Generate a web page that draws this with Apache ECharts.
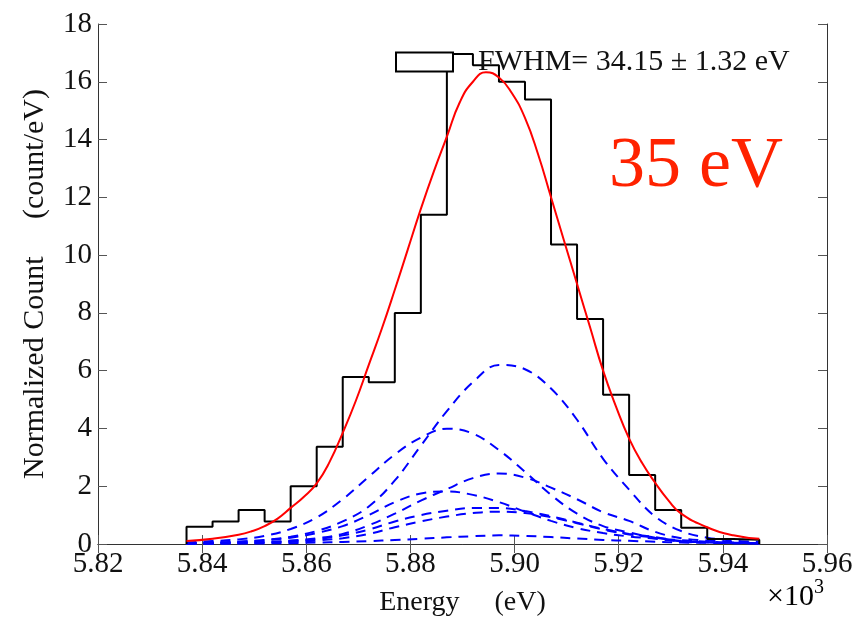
<!DOCTYPE html>
<html>
<head>
<meta charset="utf-8">
<script src="https://cdn.jsdelivr.net/npm/echarts@6/dist/echarts.min.js"></script>
<style>
  html, body { margin: 0; padding: 0; background: #fff; }
  #spectrum { width: 858px; height: 622px; }
</style>
</head>
<body>
<div id="spectrum"></div>
<script>
// energies in keV (axis shows x10^3 eV)
var binEdges = [5.837, 5.842, 5.847, 5.852, 5.857, 5.862, 5.867, 5.872, 5.877, 5.882, 5.887, 5.892,
    5.897, 5.902, 5.907, 5.912, 5.917, 5.922, 5.927, 5.932, 5.937, 5.942, 5.947];
var binCounts = [0.6, 0.78, 1.18, 0.78, 2.0, 3.37, 5.78, 5.6, 8.0, 11.4, 16.96, 16.57,
    16.0, 15.39, 10.37, 7.79, 5.17, 2.39, 1.18, 0.56, 0.17, 0.15];

// red total fit
var fitTotalE = [5.837, 5.842, 5.847, 5.8495, 5.852, 5.8545, 5.857, 5.8595, 5.862, 5.8645, 5.867,
    5.8695, 5.872, 5.8745, 5.877, 5.8795, 5.882, 5.8845, 5.887, 5.8895, 5.892, 5.8945, 5.897,
    5.8995, 5.902, 5.9045, 5.907, 5.9095, 5.912, 5.9145, 5.917, 5.9195, 5.922, 5.9245, 5.927,
    5.9295, 5.932, 5.937, 5.942, 5.947];
var fitTotalY = [0.1, 0.18, 0.32, 0.44, 0.62, 0.88, 1.25, 1.63, 2.1, 2.85, 3.85,
    4.95, 6.2, 7.45, 8.8, 10.2, 11.6, 12.9, 14.1, 15.3, 16.0, 16.33, 16.15,
    15.6, 14.75, 13.5, 12.0, 10.5, 9.0, 7.5, 6.0, 4.75, 3.65, 2.8, 2.12,
    1.52, 1.05, 0.58, 0.30, 0.18];

// blue dashed components, on the same energy grid as binEdges
var compE = binEdges;
var compA = [0.03, 0.05, 0.08, 0.14, 0.25, 0.45, 0.78, 1.3, 2.2, 3.4, 4.6, 5.6, 6.2, 6.05, 5.38, 4.3, 2.95, 1.88, 0.95, 0.45, 0.22, 0.12, 0.07];
var compB = [0.05, 0.1, 0.16, 0.28, 0.52, 0.92, 1.55, 2.33, 3.1, 3.68, 3.99, 3.82, 3.25, 2.5, 1.7, 1.05, 0.62, 0.4, 0.22, 0.13, 0.08, 0.05, 0.03];
var compC = [0.02, 0.03, 0.05, 0.07, 0.12, 0.2, 0.35, 0.65, 1.05, 1.5, 1.9, 2.28, 2.44, 2.3, 1.95, 1.55, 1.1, 0.8, 0.42, 0.2, 0.12, 0.07, 0.04];
var compD = [0.03, 0.05, 0.08, 0.13, 0.22, 0.38, 0.62, 1.0, 1.45, 1.75, 1.82, 1.7, 1.45, 1.12, 0.8, 0.55, 0.38, 0.26, 0.18, 0.08, 0.05, 0.03, 0.02];
var compE2 = [0.02, 0.03, 0.04, 0.06, 0.1, 0.17, 0.3, 0.5, 0.78, 1.0, 1.15, 1.25, 1.25, 1.14, 0.96, 0.74, 0.52, 0.35, 0.24, 0.1, 0.06, 0.04, 0.02];
var compF = [0.01, 0.02, 0.03, 0.04, 0.07, 0.12, 0.2, 0.35, 0.58, 0.78, 0.95, 1.07, 1.12, 1.07, 0.93, 0.72, 0.5, 0.33, 0.22, 0.09, 0.06, 0.04, 0.02];
var compG = [0.01, 0.01, 0.015, 0.02, 0.03, 0.05, 0.07, 0.1, 0.14, 0.18, 0.23, 0.27, 0.3, 0.28, 0.24, 0.19, 0.14, 0.11, 0.08, 0.05, 0.04, 0.03, 0.02];

var xTicks = [5.82, 5.84, 5.86, 5.88, 5.90, 5.92, 5.94, 5.96];
var yTicks = [0, 2, 4, 6, 8, 10, 12, 14, 16, 18];
var legendText = 'FWHM= 34.15 \u00b1 1.32 eV';

var serif = '"Liberation Serif", "DejaVu Serif", serif';

function pairs(xs, ys) {
    return ys.map(function (y, i) { return [xs[i], y]; });
}

// histogram outline as step line down to the baseline at both ends
var histData = [[binEdges[0], 0]];
binCounts.forEach(function (c, i) { histData.push([binEdges[i], c]); });
histData.push([binEdges[binEdges.length - 1], binCounts[binCounts.length - 1]]);
histData.push([binEdges[binEdges.length - 1], 0]);

var comps = [compA, compB, compC, compD, compE2, compF, compG];

var myChart = echarts.init(document.getElementById('spectrum'));

var axisLine = { show: true, lineStyle: { color: '#333', width: 1 } };
var axisTick = { show: true, inside: true, length: 9, lineStyle: { color: '#555', width: 1 } };

var series = [];
comps.forEach(function (c, i) {
    series.push({
        name: 'comp' + i,
        type: 'line',
        data: pairs(compE, c),
        smooth: 0.4,
        showSymbol: false,
        silent: true,
        lineStyle: { color: '#0000ff', width: 2, type: [10, 7] },
        z: 2
    });
});
series.push({
    name: legendText,
    type: 'line',
    step: 'end',
    data: histData,
    showSymbol: false,
    silent: true,
    lineStyle: { color: '#000', width: 2 },
    itemStyle: { color: '#fff', borderColor: '#000', borderWidth: 2 },
    z: 3
});
series.push({
    name: 'fit',
    type: 'line',
    data: pairs(fitTotalE, fitTotalY),
    smooth: 0.5,
    showSymbol: false,
    silent: true,
    lineStyle: { color: '#ff0000', width: 2 },
    z: 4
});

var option = {
    backgroundColor: '#fff',
    animation: false,
    grid: { left: 98, right: 31, top: 24, bottom: 75 },
    legend: {
        data: [{
            name: legendText,
            icon: 'rect',
            itemStyle: { color: '#fff', borderColor: '#000', borderWidth: 2 }
        }],
        left: 395,
        top: 47,
        padding: 0,
        itemWidth: 57,
        itemHeight: 19,
        selectedMode: false,
        textStyle: { fontFamily: serif, fontSize: 30, color: '#111', padding: [0, 0, 0, 20] }
    },
    xAxis: [{
        type: 'value',
        min: xTicks[0],
        max: xTicks[xTicks.length - 1],
        interval: 0.02,
        position: 'bottom',
        axisLine: axisLine,
        axisTick: axisTick,
        splitLine: { show: false },
        axisLabel: {
            fontFamily: serif, fontSize: 29, color: '#111', margin: 6,
            formatter: function (v) { return v.toFixed(2); }
        },
        name: 'Energy     (eV)',
        nameLocation: 'middle',
        nameGap: 45,
        nameTextStyle: { fontFamily: serif, fontSize: 28, color: '#111' }
    }, {
        type: 'value',
        min: xTicks[0],
        max: xTicks[xTicks.length - 1],
        interval: 0.02,
        position: 'top',
        axisLine: axisLine,
        axisTick: axisTick,
        axisLabel: { show: false },
        splitLine: { show: false }
    }],
    yAxis: [{
        type: 'value',
        min: yTicks[0],
        max: yTicks[yTicks.length - 1],
        interval: 2,
        position: 'left',
        axisLine: axisLine,
        axisTick: axisTick,
        splitLine: { show: false },
        axisLabel: { fontFamily: serif, fontSize: 29, color: '#111', margin: 6 },
        name: 'Normalized Count     (count/eV)',
        nameLocation: 'middle',
        nameRotate: 90,
        nameGap: 48,
        nameTextStyle: { fontFamily: serif, fontSize: 30, color: '#111' }
    }, {
        type: 'value',
        min: yTicks[0],
        max: yTicks[yTicks.length - 1],
        interval: 2,
        position: 'right',
        axisLine: axisLine,
        axisTick: axisTick,
        axisLabel: { show: false },
        splitLine: { show: false }
    }],
    graphic: [{
        type: 'text',
        left: 609,
        top: 131,
        style: { text: '35 eV', font: '72px ' + serif, fill: '#ff2200' }
    }, {
        type: 'text',
        left: 767,
        top: 578,
        style: {
            text: '{m|\u00d710}{s|3}',
            rich: {
                m: { fontFamily: serif, fontSize: 30, color: '#111', verticalAlign: 'bottom', lineHeight: 34 },
                s: { fontFamily: serif, fontSize: 20, color: '#111', verticalAlign: 'top', lineHeight: 34 }
            }
        }
    }],
    series: series
};
myChart.setOption(option);
</script>
</body>
</html>
